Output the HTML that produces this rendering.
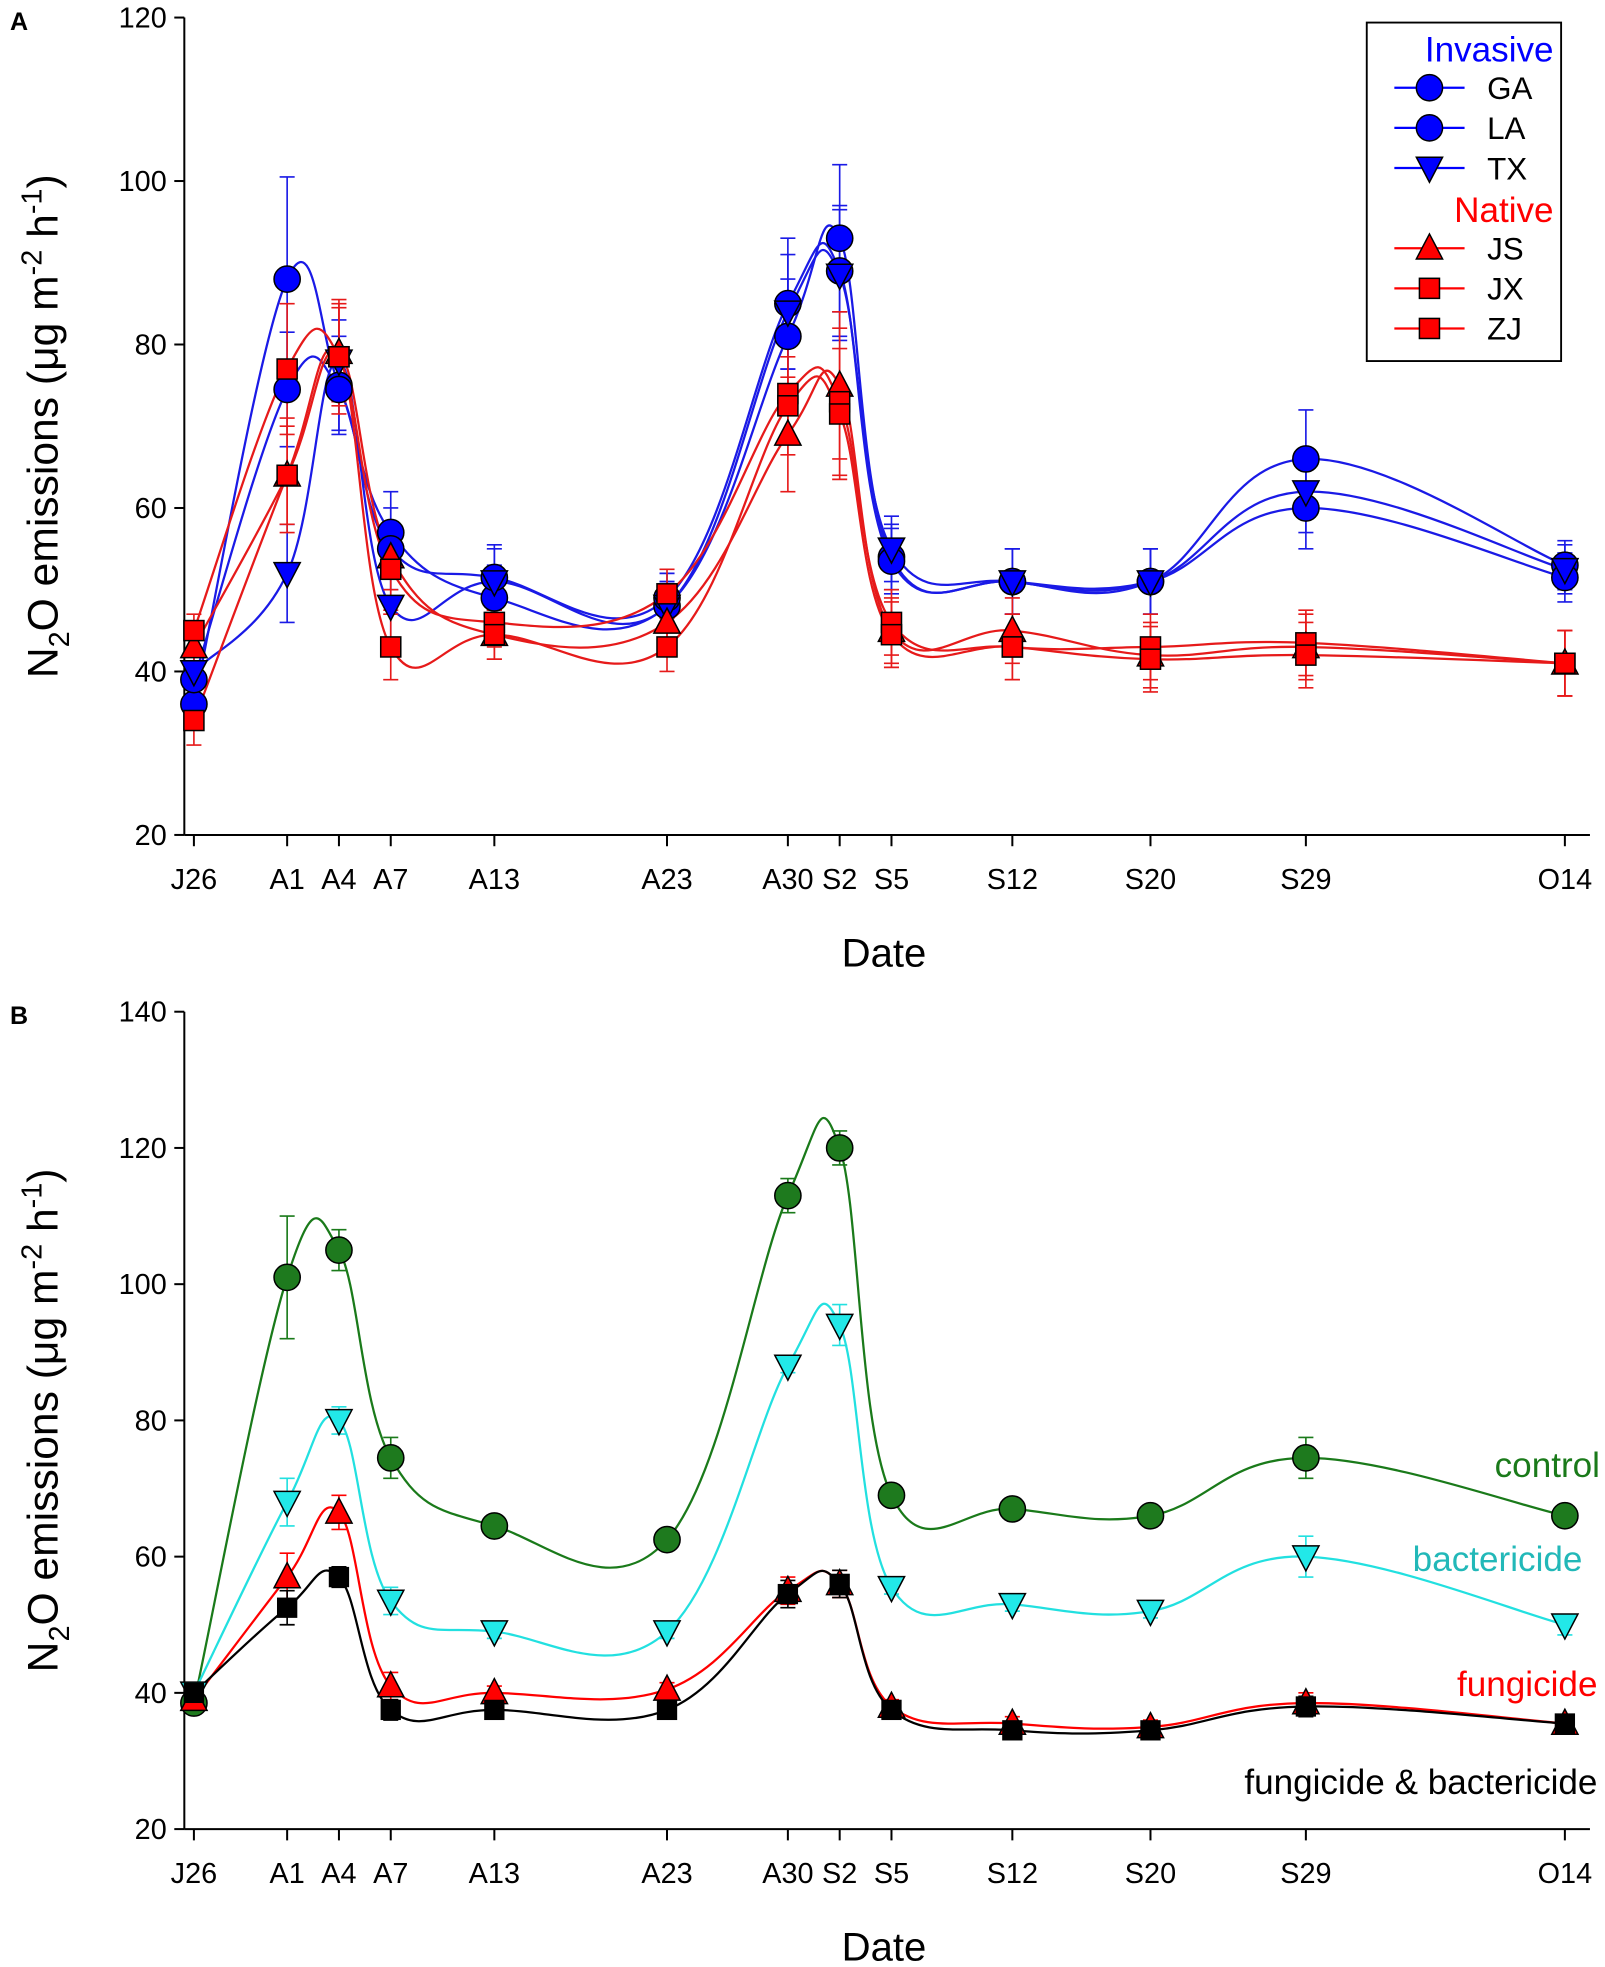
<!DOCTYPE html>
<html><head><meta charset="utf-8"><title>N2O emissions</title>
<style>
html,body{margin:0;padding:0;background:#fff;}
svg{display:block;font-family:"Liberation Sans",Arial,sans-serif;}
</style></head>
<body>
<svg id="fig" width="1605" height="1967" viewBox="0 0 1280 1569" preserveAspectRatio="none" xmlns="http://www.w3.org/2000/svg"></svg>
<script>
// ---- shared x data ----
const dateLabels = ["J26","A1","A4","A7","A13","A23","A30","S2","S5","S12","S20","S29","O14"];
const dateDays = [0.6,6,9,12,18,28,35,38,41,48,56,65,80];

// ---- Panel A data ----
const aTicks = [20,40,60,80,100,120];
const aGA = [36,88,75,57,49,48,81,93,54,51,51,66,53];
const aLA = [39,74.5,74.5,55,51.5,49,85,89,53.5,51,51,60,51.5];
const aTX = [40,52,78,48,51,48,84,88.5,55,51,51,62,52.5];
const aJS = [43,64,79,54,44.5,46,69,75,45,45,42,43,41];
const aJX = [45,77,78.5,52.5,46,49.5,74,73,46,43,43,43.5,41];
const aZJ = [34,64,78.5,43,44.5,43,72.5,71.5,44.5,43,41.5,42,41];
const aErrGA = [3,12.5,6,5,4,3,7,9,4,4,4,6,3];
const aErrLA = [3,7,5,5,4,3,8,8,4,4,4,5,3];
const aErrTX = [3,6,5,5,4,3,7,8,4,4,4,5,3];
const aErrJS = [3,6,6,4,3,3,7,9,4,4,4,4,4];
const aErrJX = [2,8,6,5,3,3,6,9,4,4,4,4,4];
const aErrZJ = [3,7,7,4,3,3,6,8,4,4,4,4,4];

// ---- Panel B data ----
const bTicks = [20,40,60,80,100,120,140];
const bControl = [38.5,101,105,74.5,64.5,62.5,113,120,69,67,66,74.5,66];
const bBact = [40,68,80,53.5,49,49,88,94,55.5,53,52,60,50];
const bFung = [39,57,66.5,41,40,40.5,55,56,38,35.5,35,38.5,35.5];
const bFB = [40,52.5,57,37.5,37.5,37.5,54.5,56,37.5,34.5,34.5,38,35.5];
const bErrControl = [1,9,3,3,1.5,1,2.5,2.5,1,1,1,3,1];
const bErrBact = [1.5,3.5,2,2,1,1,1,3,1,1,1,3,1.5];
const bErrFung = [1.5,3.5,2.5,2,1,1,2,2,1,1,1,1.5,1];
const bErrFB = [1.5,2.5,1.5,1.5,1,1,2,2,1,1,1,1.5,1];

const NS="http://www.w3.org/2000/svg";
const svg=document.getElementById('fig');
function mk(tag,attrs,parent){const e=document.createElementNS(NS,tag);for(const k in attrs)e.setAttribute(k,attrs[k]);(parent||svg).appendChild(e);return e;}

// x axis function (shared)
const XA=229,XB=1248,DA=6,DB=80;
function xs(d){return XA+(d-DA)/(DB-DA)*(XB-XA);}

function spline(pts){
  let d="M"+pts[0][0]+","+pts[0][1];
  for(let i=0;i<pts.length-1;i++){
    const p0=pts[Math.max(0,i-1)],p1=pts[i],p2=pts[i+1],p3=pts[Math.min(pts.length-1,i+2)];
    const t=1/6*1.15;
    const c1=[p1[0]+(p2[0]-p0[0])*t,p1[1]+(p2[1]-p0[1])*t];
    const c2=[p2[0]-(p3[0]-p1[0])*t,p2[1]-(p3[1]-p1[1])*t];
    d+=" C"+c1[0]+","+c1[1]+" "+c2[0]+","+c2[1]+" "+p2[0]+","+p2[1];
  }
  return d;
}

function marker(g,type,x,y,fill,s){
  let e;
  if(type==='circle') e=mk('circle',{cx:x,cy:y,r:s*0.55,fill:fill,stroke:'#000','stroke-width':1.2},g);
  else if(type==='square') e=mk('rect',{x:x-s*0.5,y:y-s*0.5,width:s,height:s,fill:fill,stroke:'#000','stroke-width':1.2},g);
  else if(type==='up') e=mk('polygon',{points:`${x},${y-s*0.6} ${x-s*0.55},${y+s*0.45} ${x+s*0.55},${y+s*0.45}`,fill:fill,stroke:'#000','stroke-width':1.2},g);
  else e=mk('polygon',{points:`${x},${y+s*0.6} ${x-s*0.55},${y-s*0.45} ${x+s*0.55},${y-s*0.45}`,fill:fill,stroke:'#000','stroke-width':1.2},g);
  return e;
}

function panel(cfg){
  const {top,bottom,ymin,ymax,ticks}=cfg;
  const ys=v=>bottom-(v-ymin)/(ymax-ymin)*(bottom-top);
  const g=mk('g',{});
  
  
  const ax=mk('g',{stroke:'#000','stroke-width':1.6},g);
  
  
  mk('line',{x1:147,y1:top,x2:147,y2:bottom},ax);
  mk('line',{x1:147,y1:bottom,x2:1268,y2:bottom},ax);
  ticks.forEach(t=>{
    mk('line',{x1:139,y1:ys(t),x2:147,y2:ys(t)},ax);
    const tx=mk('text',{x:133,y:ys(t)+8,'text-anchor':'end','font-size':23,stroke:'none',fill:'#000'},g);
    tx.textContent=t;
    
    
  });
  dateDays.forEach((d,i)=>{
    mk('line',{x1:xs(d),y1:bottom,x2:xs(d),y2:bottom+9},ax);
    const tx=mk('text',{x:xs(d),y:bottom+43,'text-anchor':'middle','font-size':23,fill:'#000'},g);
    tx.textContent=dateLabels[i];
    
    
  });
  const xt=mk('text',{x:705,y:bottom+105,'text-anchor':'middle','font-size':32,fill:'#000'},g);
  xt.textContent='Date';
  
  
  const cy=(top+bottom)/2;
  const yt=mk('text',{x:0,y:0,'text-anchor':'middle','font-size':34,fill:'#000',transform:`translate(46,${cy}) rotate(-90)`},g);
  yt.innerHTML='N<tspan font-size="23" dy="9">2</tspan><tspan dy="-9">O emissions (μg m</tspan><tspan font-size="23" dy="-13">-2</tspan><tspan dy="13"> h</tspan><tspan font-size="23" dy="-13">-1</tspan><tspan dy="13">)</tspan>';
  
  
  const pl=mk('text',{x:8,y:top+10,'font-size':20,'font-weight':'bold',fill:'#000'},g);
  pl.textContent=cfg.letter;
  
  
  cfg.series.forEach(s=>{
    const sg=mk('g',{},g);
    
    
    const pts=s.vals.map((v,i)=>[xs(dateDays[i]),ys(v)]);
    const p=mk('path',{d:spline(pts),fill:'none',stroke:s.line,'stroke-width':1.8},sg);
    
    
    s.vals.forEach((v,i)=>{
      const x=xs(dateDays[i]),e=s.err[i];
      const eb=mk('path',{d:`M${x},${ys(v-e)}V${ys(v+e)}M${x-6},${ys(v+e)}h12M${x-6},${ys(v-e)}h12`,stroke:s.line,'stroke-width':1.3,fill:'none'},sg);
      
      
    });
  });
  cfg.series.forEach(s=>{
    const sg=mk('g',{},g);
    
    
    s.vals.forEach((v,i)=>{
      const m=marker(sg,s.marker,xs(dateDays[i]),ys(v),s.fill,s.size);
      
      
    });
  });
  return ys;
}

const blue='#0000ff', red='#ff0000';
panel({name:'panel-a',letter:'A',top:14,bottom:666,ymin:20,ymax:120,ticks:aTicks,series:[
  {key:'ga',vals:aGA,err:aErrGA,line:'#1a1ae6',fill:blue,marker:'circle',size:19},
  {key:'la',vals:aLA,err:aErrLA,line:'#1a1ae6',fill:blue,marker:'circle',size:19},
  {key:'tx',vals:aTX,err:aErrTX,line:'#1a1ae6',fill:blue,marker:'down',size:19},
  {key:'js',vals:aJS,err:aErrJS,line:'#e61a1a',fill:red,marker:'up',size:19},
  {key:'jx',vals:aJX,err:aErrJX,line:'#e61a1a',fill:red,marker:'square',size:16},
  {key:'zj',vals:aZJ,err:aErrZJ,line:'#e61a1a',fill:red,marker:'square',size:16}
]});
panel({name:'panel-b',letter:'B',top:807,bottom:1459,ymin:20,ymax:140,ticks:bTicks,series:[
  {key:'control',vals:bControl,err:bErrControl,line:'#1a7a1a',fill:'#1e7a1e',marker:'circle',size:19},
  {key:'bactericide',vals:bBact,err:bErrBact,line:'#22e0e0',fill:'#22e8e8',marker:'down',size:19},
  {key:'fungicide',vals:bFung,err:bErrFung,line:'#ff0000',fill:'#ff0000',marker:'up',size:19},
  {key:'fung-bact',vals:bFB,err:bErrFB,line:'#000',fill:'#000',marker:'square',size:15}
]});

// Legend panel A
const lg=mk('g',{});


mk('rect',{x:1090,y:18,width:155,height:270,fill:'#fff',stroke:'#000','stroke-width':1.5},lg);
const legItems=[
  {t:'Invasive',head:true,c:blue,y:49},
  {t:'GA',c:blue,m:'circle',y:70},
  {t:'LA',c:blue,m:'circle',y:102},
  {t:'TX',c:blue,m:'down',y:134},
  {t:'Native',head:true,c:red,y:177},
  {t:'JS',c:red,m:'up',y:198},
  {t:'JX',c:red,m:'square',y:230},
  {t:'ZJ',c:red,m:'square',y:262}
];
legItems.forEach(it=>{
  if(it.head){
    const t=mk('text',{x:1239,y:it.y,'text-anchor':'end','font-size':28,fill:it.c},lg);
    t.textContent=it.t;
    
    
  } else {
    mk('line',{x1:1112,y1:it.y,x2:1168,y2:it.y,stroke:it.c,'stroke-width':1.8},lg);
    marker(lg,it.m,1140,it.y,it.c,it.m==='square'?16:19);
    const t=mk('text',{x:1186,y:it.y+9,'font-size':25,fill:'#000'},lg);
    t.textContent=it.t;
    
    
  }
});

// Panel B labels
[['control',1276,1178,'#1a7a1a'],['bactericide',1262,1253,'#22b8b8'],['fungicide',1274,1353,'#ff0000'],['fungicide & bactericide',1274,1431,'#000']].forEach(l=>{
  const t=mk('text',{x:l[1],y:l[2],'text-anchor':'end','font-size':28,fill:l[3]});
  t.textContent=l[0];
  
  
});
</script>
</body></html>
